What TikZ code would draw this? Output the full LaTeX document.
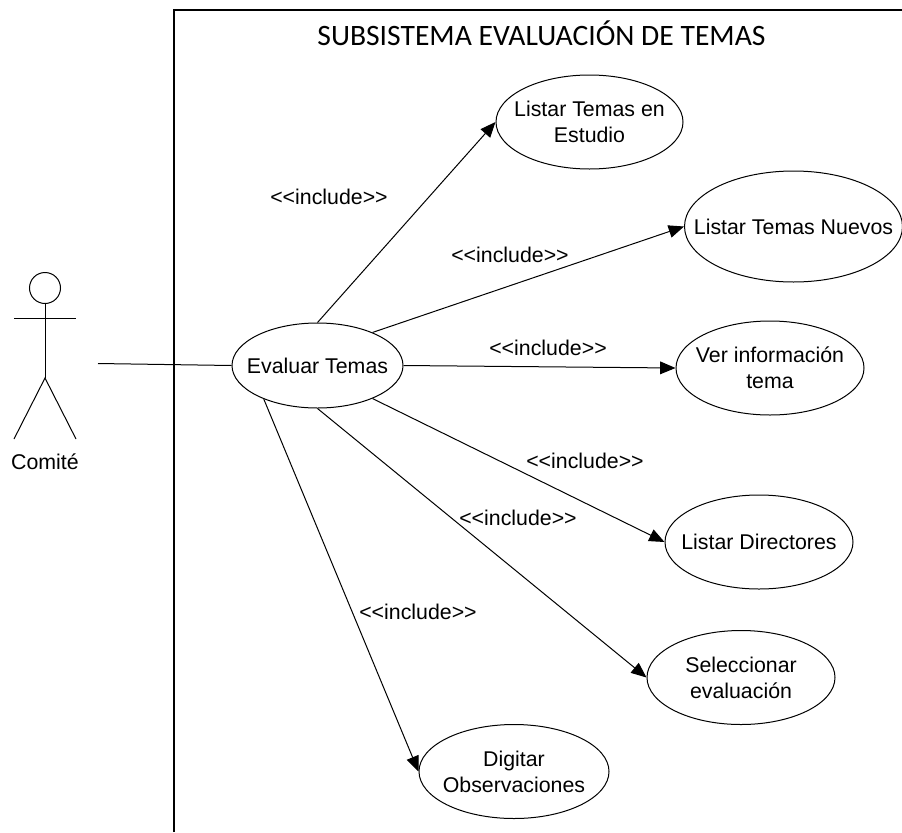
\documentclass[tikz,border=0pt]{standalone}
\usepackage{fontspec}
\newfontfamily\lab{Liberation Sans}
\newfontfamily\ttl{Carlito}
\usetikzlibrary{shapes.geometric,arrows.meta}
\tikzset{
  px/.style={x=.75pt,y=-.75pt},
  line/.style={draw=black,line width=.75pt},
  txt/.style={inner sep=0pt,align=center,font=\lab\fontsize{16}{19.5}\selectfont},
  usecase/.style={ellipse,draw=black,line width=.75pt,inner sep=0pt},
  inc/.style={line,-{Triangle[length=11.5pt,width=9.5pt]}},
}
\begin{document}
\begin{tikzpicture}[px]
\useasboundingbox (0,0) rectangle (902,832);
% frame
\coordinate (fa) at (174,832);
\coordinate (fb) at (174,10);
\coordinate (fc) at (902,10);
\draw[black,line width=1.1pt] (fa) -- (fb) -- (fc);
\node[inner sep=0pt,font=\ttl\fontsize{22.2}{26}\selectfont] (title) at (541.5,33) {SUBSISTEMA EVALUACIÓN DE TEMAS};
% use cases
\node[usecase,minimum width=128.25pt,minimum height=63.75pt,label={[txt]center:Evaluar Temas}] (eval) at (317.5,365.5) {};
\node[usecase,minimum width=140.25pt,minimum height=70.5pt,label={[txt]center:Listar Temas en\\Estudio}] (listest) at (589.5,122) {};
\node[usecase,minimum width=163.5pt,minimum height=83.25pt,label={[txt]center:Listar Temas Nuevos}] (listnue) at (793.5,226.5) {};
\node[usecase,minimum width=141pt,minimum height=70.5pt,label={[txt]center:Ver información\\tema}] (ver) at (770,368) {};
\node[usecase,minimum width=141pt,minimum height=70.5pt,label={[txt]center:Listar Directores}] (dir) at (759,542) {};
\node[usecase,minimum width=141pt,minimum height=70.5pt,label={[txt]center:Seleccionar\\evaluación}] (sel) at (741,677.5) {};
\node[usecase,minimum width=142.5pt,minimum height=70.5pt,label={[txt]center:Digitar\\Observaciones}] (dig) at (514,771.5) {};
% actor
\node[circle,draw=black,line width=.75pt,minimum size=23.25pt,inner sep=0pt] (head) at (45,288) {};
\coordinate (hip) at (45,378);
\coordinate (armL) at (14,318);
\coordinate (armR) at (76,318);
\coordinate (footL) at (14,439);
\coordinate (footR) at (76,439);
\draw[line] (head.south) -- (hip);
\draw[line] (armL) -- (armR);
\draw[line] (footL) -- (hip) -- (footR);
\node[txt] (comite) at (45,462) {Comité};
\coordinate (assoc) at (98,363.5);
\draw[line] (assoc) -- (eval.west);
% includes
\draw[inc] (eval.north) -- (listest.west);
\draw[inc] (eval.31) -- (listnue.west);
\draw[inc] (eval.east) -- (ver.west);
\draw[inc] (eval.-31) -- (dir.west);
\draw[inc] (eval.south) -- (sel.west);
\draw[inc] (eval.212) -- (dig.west);
% labels
\node[txt] (l1) at (329,197) {<<include>>};
\node[txt] (l2) at (510,255) {<<include>>};
\node[txt] (l3) at (548,348) {<<include>>};
\node[txt] (l4) at (585,461) {<<include>>};
\node[txt] (l5) at (518,518) {<<include>>};
\node[txt] (l6) at (418,612) {<<include>>};
\end{tikzpicture}
\end{document}
